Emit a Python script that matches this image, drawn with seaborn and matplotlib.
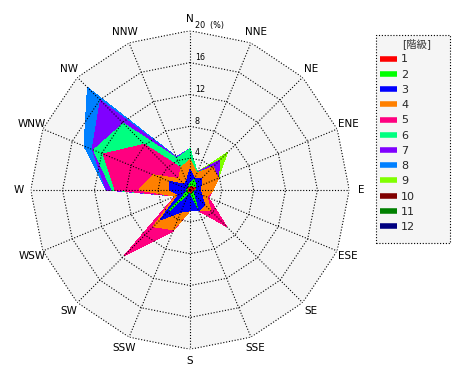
import numpy as np
import matplotlib
matplotlib.use("Agg")
import matplotlib.pyplot as plt
from matplotlib.lines import Line2D
from matplotlib.patches import Rectangle
import seaborn as sns

sns.set_theme(style="white")
plt.rcParams['font.family'] = ['DejaVu Sans', 'Noto Sans CJK JP']

directions = ["N", "NNE", "NE", "ENE", "E", "ESE", "SE", "SSE",
              "S", "SSW", "SW", "WSW", "W", "WNW", "NW", "NNW"]

# cumulative frequency (%) per speed class
level1 = [0.3, 0.5, 0.5, 0.7, 0.5, 0.2, 0.3, 0.3, 0.2, 0.2, 0.3, 0.2, 0.2, 0.2, 0.2, 0.2]
level2 = [0.8, 1.4, 1.0, 0.8, 0.6, 0.4, 0.6, 2.4, 0.3, 0.4, 3.6, 0.3, 0.4, 0.4, 0.3, 0.5]
level3 = [2.6, 1.5, 2.0, 1.5, 1.3, 1.6, 2.6, 2.8, 2.6, 3.0, 5.3, 1.5, 2.6, 2.8, 1.0, 1.2]
level4 = [3.85, 2.3, 4.1, 3.85, 2.9, 2.3, 3.7, 2.8, 2.6, 5.4, 6.5, 2.0, 6.4, 5.0, 2.0, 3.0]
level5 = [3.85, 2.3, 4.1, 3.85, 2.9, 2.5, 6.5, 2.8, 2.6, 5.6, 11.7, 2.0, 9.4, 11.8, 8.1, 3.0]
level6 = [5.2, 2.4, 4.1, 3.85, 2.9, 2.5, 6.5, 2.8, 2.6, 5.6, 11.7, 2.0, 9.8, 13.1, 11.8, 4.3]
level7 = [5.2, 2.4, 5.3, 3.85, 2.9, 2.5, 6.5, 2.8, 2.6, 5.6, 11.7, 2.0, 10.5, 13.3, 15.9, 4.4]
level8 = [5.2, 2.4, 5.3, 3.85, 2.9, 2.5, 6.5, 2.8, 2.6, 5.6, 11.7, 2.0, 10.5, 14.4, 18.2, 4.5]
level9 = [5.2, 2.4, 6.6, 3.85, 2.9, 2.5, 6.5, 2.8, 2.6, 5.6, 11.7, 2.0, 10.5, 14.4, 18.2, 4.5]
level10 = list(level9)
level11 = list(level9)
level12 = list(level9)

levels = [level1, level2, level3, level4, level5, level6,
          level7, level8, level9, level10, level11, level12]
level_labels = ["1", "2", "3", "4", "5", "6", "7", "8", "9", "10", "11", "12"]
level_colors = ["#ff0000", "#00ff00", "#0000ff", "#ff8000", "#ff0080", "#00ff80",
                "#8000ff", "#0080ff", "#80ff00", "#800000", "#008000", "#000080"]

ring_values = [4, 8, 12, 16, 20]
ring_labels = ["4", "8", "12", "16", "20"]
r_max = 20

W, H = 470, 380
fig = plt.figure(figsize=(W / 100, H / 100), dpi=100)
fig.patch.set_facecolor("white")
cx, cy, rad = 190, 190, 159.3
ax = fig.add_axes([(cx - rad) / W, (H - cy - rad) / H, 2 * rad / W, 2 * rad / H],
                  projection="polar")
ax.set_theta_zero_location("N")
ax.set_theta_direction(-1)
ax.set_ylim(0, r_max)
ax.grid(False)
ax.set_xticks([])
ax.set_yticks([])
ax.spines["polar"].set_visible(False)
ax.set_facecolor("none")

theta = np.deg2rad(np.arange(len(directions)) * 22.5)
theta_c = np.append(theta, theta[0])

# background polygon
ax.fill(theta_c, [r_max] * len(theta_c), color="#f5f5f5", zorder=0, lw=0)

# filled level polygons, largest first
for vals, col in reversed(list(zip(levels, level_colors))):
    v = np.append(vals, vals[0])
    ax.fill(theta_c, v, color=col, lw=0, zorder=1, antialiased=False)

dot = (0, (1, 1.6))
for rv in ring_values:
    ax.plot(theta_c, [rv] * len(theta_c), color="black", lw=0.8, ls=dot, zorder=3)
for t in theta:
    ax.plot([t, t], [0, r_max], color="black", lw=0.8, ls=dot, zorder=3)

for t, d in zip(theta, directions):
    ax.text(t, 21.5, d, ha="center", va="center", fontsize=7.5, color="black")

for rv, lab in zip(ring_values, ring_labels):
    txt = lab + "  (%)" if rv == r_max else lab
    ax.annotate(txt, xy=(0, rv), xytext=(3.5, 0.5), textcoords="offset points",
                ha="left", va="bottom", fontsize=5.8, color="black",
                annotation_clip=False)

# legend box
x0, y0, x1, y1 = 375.7, 35, 450, 243.3
box = Rectangle((x0 / W, 1 - y1 / H), (x1 - x0) / W, (y1 - y0) / H,
                transform=fig.transFigure, facecolor="#f5f5f5", edgecolor="black",
                linestyle=(0, (1, 1.6)), linewidth=0.8, zorder=0)
fig.patches.append(box)
fig.text(416.7 / W, 1 - 43.5 / H, "[階級]", ha="center", va="center",
         fontsize=7.5, color="#333333")

handles = [Line2D([], [], color=c, lw=4, solid_capstyle="butt") for c in level_colors]
leg = fig.legend(handles, level_labels,
                 loc="upper left", bbox_to_anchor=(380 / W, 1 - 54.5 / H),
                 fontsize=8, handlelength=1.55,
                 handletextpad=0.35, labelspacing=0.47, borderpad=0.0,
                 frameon=False, borderaxespad=0)

fig.savefig("out.png", dpi=100)
